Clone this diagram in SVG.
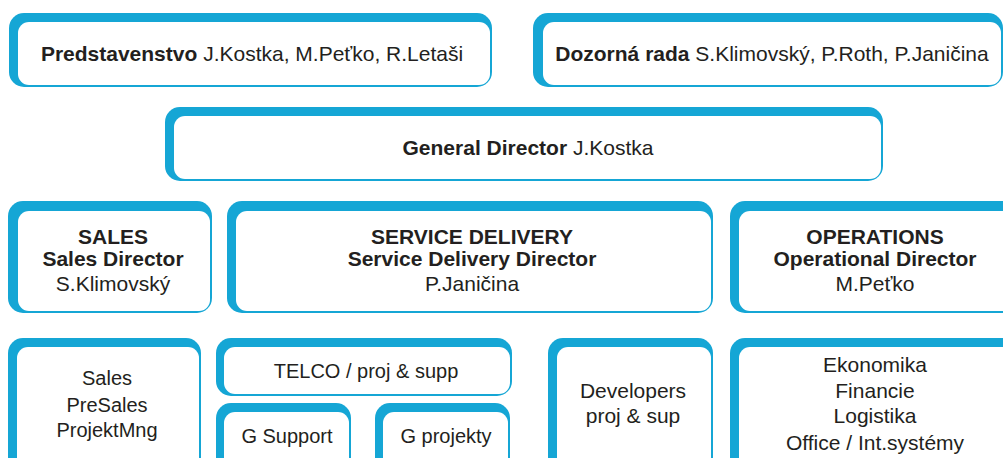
<svg xmlns="http://www.w3.org/2000/svg" width="1003" height="458" viewBox="0 0 1003 458">
<style>
.o{fill:#15a6d5}
.i{fill:#fff}
text{font-family:"Liberation Sans",Arial,sans-serif;font-size:21px;fill:#231f20;text-anchor:middle}
.s{font-size:20px}
.b{font-weight:bold}
</style>
<rect width="1003" height="458" fill="#fff"/>
<g id="connectors"></g>
<g id="predstavenstvo">
<rect class="o" x="9" y="13" width="483" height="74" rx="15"/>
<rect class="i" x="18" y="22" width="472" height="63" rx="11"/>
<text x="252" y="61"><tspan class="b">Predstavenstvo</tspan> J.Kostka, M.Peťko, R.Letaši</text>
</g>
<g id="dozorna">
<rect class="o" x="533" y="13" width="470" height="74" rx="15"/>
<rect class="i" x="543" y="22" width="458" height="63" rx="11"/>
<text x="772" y="61"><tspan class="b">Dozorná rada</tspan> S.Klimovský, P.Roth, P.Janičina</text>
</g>
<g id="general">
<rect class="o" x="165" y="107" width="718" height="74" rx="15"/>
<rect class="i" x="174" y="116" width="707" height="63" rx="11"/>
<text x="528" y="155"><tspan class="b">General Director</tspan> J.Kostka</text>
</g>
<g id="sales-dir">
<rect class="o" x="8" y="201" width="204" height="112" rx="15"/>
<rect class="i" x="18" y="211" width="192" height="100" rx="11"/>
<text x="113" y="244" class="b">SALES</text>
<text x="113" y="266" class="b">Sales Director</text>
<text x="113" y="291">S.Klimovský</text>
</g>
<g id="service-dir">
<rect class="o" x="227" y="201" width="486" height="112" rx="15"/>
<rect class="i" x="236" y="211" width="475" height="100" rx="11"/>
<text x="472" y="244" class="b">SERVICE DELIVERY</text>
<text x="472" y="266" class="b">Service Delivery Director</text>
<text x="472" y="291">P.Janičina</text>
</g>
<g id="operations-dir">
<rect class="o" x="730" y="201" width="290" height="112" rx="15"/>
<rect class="i" x="739" y="211" width="279" height="100" rx="11"/>
<text x="875" y="244" class="b">OPERATIONS</text>
<text x="875" y="266" class="b">Operational Director</text>
<text x="875" y="291">M.Peťko</text>
</g>
<g id="sales-team">
<rect class="o" x="8" y="338" width="193" height="140" rx="15"/>
<rect class="i" x="17" y="347" width="182" height="129" rx="11"/>
<text x="107" y="385" class="s">Sales</text>
<text x="107" y="412" class="s">PreSales</text>
<text x="107" y="437" class="s">ProjektMng</text>
</g>
<g id="telco">
<rect class="o" x="216" y="338" width="296" height="58" rx="15"/>
<rect class="i" x="224" y="347" width="286" height="47" rx="11"/>
<text x="366" y="378" class="s">TELCO / proj &amp; supp</text>
</g>
<g id="gsupport">
<rect class="o" x="216" y="403" width="135" height="80" rx="15"/>
<rect class="i" x="224" y="412" width="125" height="69" rx="11"/>
<text x="287" y="443" class="s">G Support</text>
</g>
<g id="gprojekty">
<rect class="o" x="375" y="403" width="135" height="80" rx="15"/>
<rect class="i" x="383" y="412" width="125" height="69" rx="11"/>
<text x="446" y="443" class="s">G projekty</text>
</g>
<g id="developers">
<rect class="o" x="548" y="338" width="165" height="140" rx="15"/>
<rect class="i" x="557" y="347" width="154" height="129" rx="11"/>
<text x="633" y="398">Developers</text>
<text x="633" y="423">proj &amp; sup</text>
</g>
<g id="operations-team">
<rect class="o" x="730" y="338" width="290" height="140" rx="15"/>
<rect class="i" x="739" y="347" width="279" height="129" rx="11"/>
<text x="875" y="372">Ekonomika</text>
<text x="875" y="398">Financie</text>
<text x="875" y="423">Logistika</text>
<text x="875" y="450">Office / Int.systémy</text>
</g>
</svg>
